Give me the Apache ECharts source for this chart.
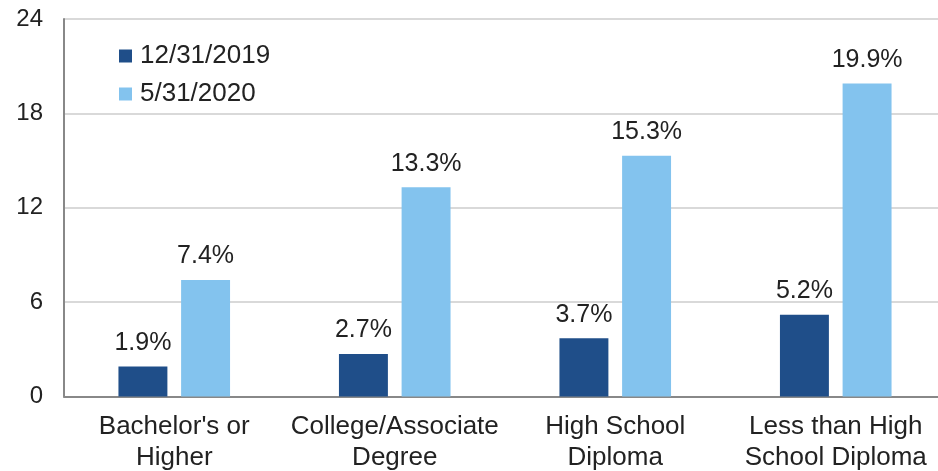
<!DOCTYPE html>
<html><head><meta charset="utf-8">
<script src="https://cdn.jsdelivr.net/npm/echarts@6/dist/echarts.min.js"></script>
<style>html,body{margin:0;padding:0;background:#fff}#c{width:938px;height:471px}</style>
</head><body><div id="c"></div>
<script>
const categories = ["Bachelor's or\nHigher", "College/Associate\nDegree", "High School\nDiploma", "Less than High\nSchool Diploma"];
const seriesNames = ["12/31/2019", "5/31/2020"];
const values2019 = [1.9, 2.7, 3.7, 5.2];
const values2020 = [7.4, 13.3, 15.3, 19.9];
const yTicks = [0, 6, 12, 18, 24];

const font = "'Liberation Sans', Arial, sans-serif";
const chart = echarts.init(document.getElementById('c'));
const lbl = {show: true, position: 'top', distance: 11, fontSize: 25, color: '#222', fontFamily: font, formatter: p => p.value.toFixed(1) + '%'};
chart.setOption({
  animation: false,
  textStyle: {fontFamily: font},
  grid: {left: 64, width: 882, top: 19, height: 377.5, containLabel: false, outerBoundsMode: 'none'},
  legend: {
    left: 114, top: 38, orient: 'vertical', itemWidth: 13, itemHeight: 13, itemGap: 12, icon: 'rect',
    textStyle: {fontSize: 26, color: '#222', fontFamily: font, padding: [0, 0, 0, 3]},
    data: seriesNames
  },
  xAxis: {
    type: 'category', data: categories,
    axisLine: {lineStyle: {color: '#888', width: 2}},
    axisTick: {show: false},
    axisLabel: {fontSize: 26, color: '#222', lineHeight: 31, margin: 15, interval: 0, fontFamily: font}
  },
  yAxis: {
    type: 'value', min: yTicks[0], max: yTicks[yTicks.length - 1], interval: 6,
    axisLine: {show: true, lineStyle: {color: '#888', width: 2}},
    axisTick: {show: false},
    splitLine: {lineStyle: {color: '#d9d9d9', width: 2}},
    axisLabel: {fontSize: 24, color: '#222', margin: 21, fontFamily: font}
  },
  series: [
    {name: seriesNames[0], type: 'bar', data: values2019, barWidth: '22.2%', barGap: '28%', itemStyle: {color: '#1F4E89'}, label: lbl},
    {name: seriesNames[1], type: 'bar', data: values2020, barWidth: '22.2%', barGap: '28%', itemStyle: {color: '#83C3EE'}, label: lbl}
  ]
});
</script></body></html>
